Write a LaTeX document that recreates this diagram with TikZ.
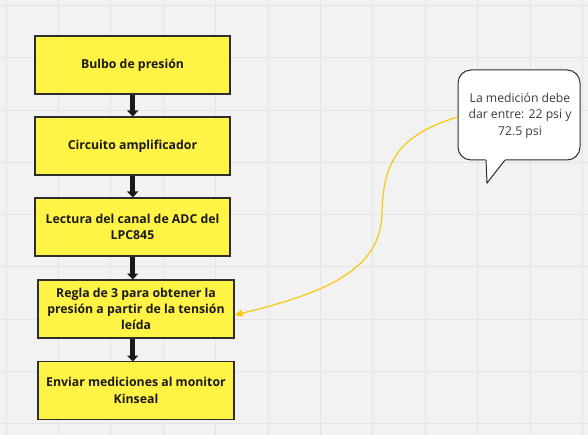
\documentclass[tikz,border=0pt]{standalone}
\usepackage{fontspec}
\setmainfont{Open Sans}
\usetikzlibrary{arrows.meta}
\definecolor{bg}{HTML}{F2F2F2}
\definecolor{gridc}{HTML}{E4E4E4}
\definecolor{boxfill}{HTML}{FFF346}
\definecolor{boxline}{HTML}{2E2E2E}
\definecolor{txt}{HTML}{1A1A1A}
\definecolor{curvec}{HTML}{FAC710}
\tikzset{
  stepbox/.style={draw=boxline, line width=1.2pt, fill=boxfill, minimum width=195pt, minimum height=58pt,
    align=center, font=\fontsize{12.3}{16.3}\selectfont\bfseries, text=txt, inner sep=0pt},
  flowarrow/.style={draw=txt, line width=5pt, -{Triangle[width=11pt,length=6pt]}},
  notebox/.style={draw=boxline, line width=1pt, fill=white, rounded corners=13pt, minimum width=122pt, minimum height=90pt},
  notetext/.style={align=center, font=\fontsize{12.2}{16.5}\selectfont, text=txt!85!white},
}
\begin{document}
\begin{tikzpicture}[x=1pt,y=-1pt]
\fill[bg] (0,0) rectangle (588,435);
\useasboundingbox (0,0) rectangle (588,435);
\foreach \i in {0,...,11} {\draw[gridc, line width=0.9pt] (6+52.4*\i,0) -- (6+52.4*\i,435);}
\foreach \j in {0,...,8} {\draw[gridc, line width=0.9pt] (0,5.4+52.3*\j) -- (588,5.4+52.3*\j);}
\node[stepbox] (b1) at (132.5,65) {Bulbo de presión};
\node[stepbox] (b2) at (132.5,146) {Circuito amplificador};
\node[stepbox] (b3) at (132.5,227) {Lectura del canal de ADC del\\LPC845};
\node[stepbox, minimum width=196pt] (b4) at (136,309) {Regla de 3 para obtener la\\presión a partir de la tensión\\leída};
\node[stepbox, minimum width=196pt] (b5) at (136,390.5) {Enviar mediciones al monitor\\Kinseal};
\coordinate (a1s) at (132.7,94.6);
\coordinate (a1e) at (132.7,116.5);
\coordinate (a2s) at (132.7,175.6);
\coordinate (a2e) at (132.7,197.5);
\coordinate (a3s) at (132.7,256.6);
\coordinate (a3e) at (132.7,279.5);
\coordinate (a4s) at (132.7,338.6);
\coordinate (a4e) at (132.7,361.5);
\draw[flowarrow] (a1s) -- (a1e);
\draw[flowarrow] (a2s) -- (a2e);
\draw[flowarrow] (a3s) -- (a3e);
\draw[flowarrow] (a4s) -- (a4e);
% callout
\node[notebox] (callout) at (519,115) {};
\coordinate (t1) at (486,160);
\coordinate (t2) at (487,183);
\coordinate (t3) at (505,160);
\fill[white] (485.5,159) -- (t1) -- (t2) -- (t3) -- (505.5,159) -- cycle;
\draw[boxline, line width=1pt, line join=miter] (t1) -- (t2) -- (t3);
\node[notetext] (note) at (520,115.5) {La medición debe\\dar entre: 22 psi y\\72.5 psi};
\coordinate (cs) at (457.5,117);
\coordinate (cm) at (382,213);
\coordinate (ce) at (234.5,315);
\draw[curvec, line width=1.2pt, -{Triangle[width=7pt,length=8pt]}] (cs) .. controls (400,135) and (383,160) .. (cm)
  .. controls (381,268) and (330,292) .. (ce);
\end{tikzpicture}
\end{document}
